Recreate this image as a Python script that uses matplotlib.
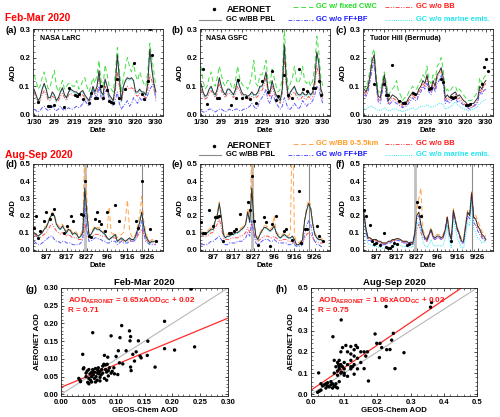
import matplotlib
matplotlib.use('Agg')
import matplotlib.pyplot as plt
from matplotlib.lines import Line2D
from matplotlib.ticker import MultipleLocator, FixedLocator
import numpy as np

plt.rcParams['font.family'] = ['Liberation Sans', 'DejaVu Sans']
plt.rcParams['font.weight'] = 'bold'
plt.rcParams['mathtext.fontset'] = 'custom'
plt.rcParams['mathtext.rm'] = 'Liberation Sans:bold'
plt.rcParams['mathtext.bf'] = 'Liberation Sans:bold'
plt.rcParams['mathtext.it'] = 'Liberation Sans:bold'

# ---------------- data ----------------
feb_ticks = [0, 10, 20, 30, 40, 50, 60]
feb_labels = ['1/30', '2/9', '2/19', '2/29', '3/10', '3/20', '3/30']
aug_ticks = [6, 16, 26, 36, 46, 56]
aug_labels = ['8/7', '8/17', '8/27', '9/6', '9/16', '9/26']
fire_days = [25, 53]

# (a) NASA LaRC
a_blk = [0.09,0.07,0.05,0.06,0.09,0.11,0.09,0.06,0.06,0.08,
         0.07,0.05,0.06,0.08,0.095,0.07,0.06,0.08,0.09,0.085,
         0.08,0.08,0.07,0.08,0.085,0.07,0.06,0.05,0.07,0.10,
         0.08,0.10,0.155,0.08,0.07,0.125,0.10,0.07,0.06,0.05,
         0.10,0.21,0.13,0.05,0.10,0.12,0.13,0.125,0.13,0.12,
         0.08,0.08,0.09,0.08,0.08,0.07,0.11,0.23,0.16,0.11,
         0.08]
a_grn = [0.14,0.12,0.09,0.10,0.13,0.15,0.12,0.09,0.10,0.13,
         0.155,0.10,0.08,0.10,0.12,0.09,0.10,0.11,0.11,0.10,
         0.10,0.12,0.09,0.10,0.12,0.13,0.10,0.08,0.10,0.13,
         0.11,0.14,0.19,0.12,0.10,0.175,0.14,0.10,0.09,0.08,
         0.14,0.235,0.16,0.08,0.13,0.17,0.20,0.17,0.15,0.18,
         0.14,0.12,0.15,0.13,0.11,0.10,0.15,0.25,0.20,0.15,
         0.10]
a_red = [0.08,0.06,0.045,0.05,0.07,0.085,0.07,0.05,0.05,0.065,
         0.06,0.045,0.05,0.065,0.075,0.06,0.05,0.07,0.075,0.07,
         0.065,0.07,0.06,0.065,0.07,0.06,0.05,0.045,0.06,0.085,
         0.07,0.08,0.14,0.07,0.06,0.10,0.08,0.06,0.05,0.045,
         0.08,0.15,0.10,0.045,0.08,0.09,0.10,0.09,0.095,0.09,
         0.07,0.065,0.075,0.07,0.065,0.06,0.09,0.14,0.12,0.09,
         0.06]
a_blu = [0.02,0.015,0.01,0.015,0.025,0.03,0.02,0.015,0.02,0.03,
         0.02,0.015,0.02,0.03,0.02,0.015,0.02,0.025,0.02,0.02,
         0.025,0.03,0.025,0.03,0.04,0.05,0.04,0.03,0.05,0.09,
         0.07,0.06,0.10,0.06,0.05,0.08,0.09,0.05,0.04,0.03,
         0.05,0.08,0.04,0.02,0.03,0.04,0.05,0.03,0.04,0.06,
         0.05,0.04,0.06,0.05,0.06,0.05,0.07,0.09,0.10,0.11,
         0.05]
a_cyn = [0.085,0.065,0.045,0.055,0.085,0.105,0.085,0.055,0.055,0.075,
         0.065,0.045,0.055,0.075,0.09,0.065,0.055,0.075,0.085,0.08,
         0.075,0.075,0.065,0.075,0.08,0.065,0.055,0.045,0.065,0.095,
         0.075,0.095,0.15,0.075,0.065,0.12,0.095,0.065,0.055,0.045,
         0.095,0.205,0.125,0.045,0.095,0.115,0.125,0.12,0.125,0.115,
         0.075,0.075,0.085,0.075,0.075,0.065,0.105,0.225,0.155,0.105,
         0.075]
a_pts_day = [2, 7, 8, 10, 15, 17, 20, 21, 22, 24, 27, 28, 30, 31, 33, 34, 36, 37, 38, 39, 41, 42, 45, 49, 53, 54, 56, 57, 58]
a_pts_val = [0.045,0.032,0.032,0.034,0.028,0.095,0.07,0.066,0.072,0.056,0.043,0.075,0.058,0.06,0.10,0.058,0.088,0.05,0.045,0.04,0.125,0.06,0.09,0.18,0.072,0.055,0.12,0.30,0.21]

# (b) NASA GSFC
b_blk = [0.11,0.08,0.065,0.07,0.09,0.10,0.08,0.07,0.09,0.13,
         0.10,0.08,0.07,0.09,0.09,0.08,0.07,0.09,0.125,0.10,
         0.08,0.07,0.07,0.065,0.07,0.08,0.07,0.07,0.08,0.10,
         0.10,0.12,0.15,0.09,0.08,0.12,0.09,0.07,0.06,0.05,
         0.09,0.245,0.12,0.06,0.08,0.09,0.10,0.08,0.07,0.07,
         0.08,0.07,0.07,0.08,0.07,0.08,0.12,0.22,0.18,0.09,
         0.07]
b_grn = [0.17,0.12,0.09,0.10,0.13,0.15,0.11,0.10,0.13,0.17,
         0.14,0.11,0.10,0.12,0.12,0.10,0.09,0.12,0.17,0.13,
         0.11,0.10,0.10,0.09,0.11,0.14,0.19,0.11,0.10,0.14,
         0.14,0.16,0.19,0.12,0.11,0.16,0.13,0.10,0.08,0.09,
         0.13,0.305,0.16,0.09,0.11,0.13,0.17,0.12,0.11,0.13,
         0.17,0.12,0.11,0.12,0.10,0.12,0.17,0.275,0.22,0.13,
         0.10]
b_red = [0.09,0.07,0.055,0.06,0.075,0.085,0.07,0.06,0.075,0.11,
         0.085,0.07,0.06,0.075,0.075,0.07,0.06,0.075,0.10,0.085,
         0.07,0.06,0.06,0.055,0.06,0.065,0.06,0.06,0.065,0.085,
         0.085,0.10,0.13,0.075,0.065,0.10,0.075,0.06,0.05,0.04,
         0.075,0.20,0.10,0.05,0.065,0.075,0.08,0.065,0.055,0.055,
         0.065,0.055,0.055,0.065,0.055,0.065,0.10,0.17,0.14,0.07,
         0.055]
b_blu = [0.015,0.01,0.01,0.015,0.02,0.02,0.015,0.01,0.015,0.02,
         0.02,0.015,0.01,0.015,0.02,0.015,0.015,0.02,0.02,0.015,
         0.015,0.02,0.02,0.025,0.03,0.04,0.03,0.02,0.03,0.05,
         0.06,0.07,0.09,0.05,0.04,0.07,0.06,0.04,0.03,0.02,
         0.03,0.06,0.04,0.02,0.02,0.03,0.04,0.03,0.02,0.03,
         0.05,0.04,0.03,0.04,0.04,0.05,0.07,0.10,0.09,0.06,
         0.04]
b_cyn = [0.105,0.075,0.06,0.065,0.085,0.095,0.075,0.065,0.085,0.125,
         0.095,0.075,0.065,0.085,0.085,0.075,0.065,0.085,0.12,0.095,
         0.075,0.065,0.065,0.06,0.065,0.075,0.065,0.065,0.075,0.095,
         0.095,0.115,0.145,0.085,0.075,0.115,0.085,0.065,0.055,0.045,
         0.085,0.24,0.115,0.055,0.075,0.085,0.095,0.075,0.065,0.065,
         0.075,0.065,0.065,0.075,0.065,0.075,0.115,0.215,0.175,0.085,
         0.065]
b_pts_day = [1, 3, 8, 9, 15, 17, 18, 20, 22, 24, 27, 30, 33, 35, 37, 38, 41, 43, 45, 48, 50, 52, 55, 56, 58, 59]
b_pts_val = [0.16,0.037,0.06,0.058,0.033,0.06,0.123,0.06,0.063,0.055,0.043,0.117,0.08,0.152,0.052,0.065,0.14,0.07,0.06,0.16,0.09,0.085,0.093,0.095,0.12,0.07]

# (c) Tudor Hill (Bermuda)
c_blk = [0.09,0.08,0.10,0.14,0.19,0.21,0.12,0.065,0.06,0.10,
         0.14,0.09,0.05,0.06,0.07,0.065,0.06,0.05,0.05,0.04,
         0.045,0.045,0.06,0.07,0.08,0.07,0.07,0.09,0.10,0.12,
         0.11,0.14,0.10,0.09,0.12,0.10,0.14,0.15,0.165,0.13,
         0.06,0.07,0.06,0.07,0.075,0.08,0.065,0.07,0.06,0.05,
         0.045,0.035,0.035,0.04,0.04,0.05,0.06,0.10,0.09,0.11,
         0.12]
c_grn = [0.10,0.09,0.12,0.16,0.21,0.23,0.14,0.08,0.08,0.12,
         0.15,0.11,0.07,0.08,0.09,0.10,0.12,0.08,0.07,0.05,
         0.06,0.06,0.08,0.09,0.10,0.09,0.09,0.11,0.12,0.14,
         0.13,0.17,0.12,0.11,0.14,0.12,0.17,0.18,0.20,0.16,
         0.08,0.09,0.08,0.09,0.10,0.10,0.08,0.09,0.08,0.07,
         0.06,0.05,0.05,0.05,0.06,0.07,0.08,0.13,0.11,0.13,
         0.14]
c_red = [0.08,0.07,0.09,0.13,0.18,0.20,0.11,0.055,0.05,0.09,
         0.13,0.08,0.04,0.05,0.06,0.055,0.05,0.04,0.04,0.03,
         0.035,0.035,0.05,0.06,0.07,0.06,0.06,0.08,0.09,0.11,
         0.10,0.13,0.09,0.08,0.11,0.09,0.13,0.14,0.155,0.12,
         0.05,0.06,0.05,0.06,0.065,0.07,0.055,0.06,0.05,0.04,
         0.035,0.03,0.025,0.03,0.03,0.04,0.05,0.09,0.08,0.10,
         0.11]
c_blu = [0.07,0.065,0.08,0.12,0.16,0.19,0.10,0.045,0.04,0.08,
         0.12,0.07,0.035,0.04,0.05,0.045,0.04,0.035,0.03,0.025,
         0.03,0.03,0.04,0.05,0.06,0.05,0.05,0.07,0.08,0.10,
         0.09,0.11,0.08,0.07,0.10,0.08,0.11,0.12,0.14,0.11,
         0.04,0.05,0.04,0.05,0.055,0.06,0.045,0.05,0.04,0.035,
         0.03,0.025,0.02,0.025,0.03,0.035,0.045,0.08,0.07,0.085,
         0.09]
c_cyn = [0.02,0.02,0.025,0.03,0.03,0.025,0.02,0.015,0.015,0.02,
         0.025,0.02,0.015,0.015,0.02,0.02,0.02,0.015,0.015,0.01,
         0.015,0.015,0.02,0.02,0.025,0.02,0.02,0.025,0.03,0.03,
         0.03,0.035,0.03,0.025,0.03,0.03,0.035,0.04,0.04,0.035,
         0.02,0.025,0.025,0.03,0.04,0.045,0.035,0.03,0.025,0.02,
         0.02,0.015,0.015,0.02,0.02,0.025,0.03,0.04,0.045,0.05,
         0.055]
c_pts_day = [5, 10, 11, 12, 14, 17, 19, 20, 24, 25, 32, 33, 38, 39, 43, 44, 45, 50, 51, 52, 58, 59, 60, 61]
c_pts_val = [0.107,0.107,0.068,0.068,0.173,0.05,0.042,0.043,0.077,0.073,0.09,0.095,0.125,0.115,0.063,0.06,0.063,0.035,0.033,0.038,0.107,0.167,0.195,0.152]

# (d) Aug-Sep NASA LaRC
d_blk = [0.10,0.09,0.08,0.09,0.10,0.12,0.13,0.16,0.19,0.21,
         0.20,0.15,0.13,0.12,0.14,0.12,0.10,0.12,0.11,0.09,
         0.10,0.09,0.07,0.08,0.10,0.36,0.22,0.09,0.09,0.11,
         0.13,0.12,0.12,0.11,0.10,0.09,0.07,0.06,0.07,0.08,
         0.09,0.05,0.06,0.07,0.06,0.05,0.06,0.07,0.06,0.06,
         0.08,0.12,0.16,0.22,0.14,0.08,0.06,0.04,0.05,0.05,
         0.05]
d_org = [0.10,0.09,0.08,0.09,0.11,0.13,0.14,0.17,0.20,0.22,
         0.21,0.16,0.14,0.13,0.15,0.13,0.11,0.13,0.12,0.10,
         0.11,0.10,0.08,0.09,0.12,0.60,0.30,0.10,0.10,0.12,
         0.14,0.13,0.13,0.12,0.11,0.10,0.12,0.25,0.10,0.09,
         0.10,0.07,0.08,0.09,0.10,0.18,0.29,0.12,0.08,0.07,
         0.09,0.14,0.20,0.31,0.17,0.10,0.07,0.05,0.06,0.06,
         0.06]
d_red = [0.09,0.08,0.07,0.07,0.08,0.09,0.10,0.12,0.14,0.15,
         0.13,0.11,0.10,0.09,0.10,0.09,0.08,0.09,0.08,0.07,
         0.07,0.07,0.06,0.06,0.07,0.15,0.11,0.07,0.07,0.08,
         0.09,0.09,0.09,0.08,0.08,0.08,0.07,0.06,0.07,0.07,
         0.07,0.05,0.05,0.06,0.05,0.05,0.05,0.06,0.05,0.05,
         0.06,0.08,0.10,0.12,0.09,0.06,0.05,0.04,0.04,0.04,
         0.04]
d_blu = [0.05,0.04,0.03,0.03,0.04,0.05,0.06,0.07,0.08,0.08,
         0.06,0.05,0.05,0.04,0.05,0.05,0.04,0.04,0.04,0.03,
         0.03,0.03,0.03,0.04,0.06,0.27,0.12,0.05,0.05,0.06,
         0.07,0.07,0.06,0.06,0.05,0.05,0.04,0.04,0.05,0.05,
         0.05,0.03,0.04,0.05,0.04,0.04,0.04,0.05,0.05,0.05,
         0.06,0.10,0.13,0.17,0.10,0.05,0.04,0.03,0.03,0.03,
         0.03]
d_cyn = [0.095,0.085,0.075,0.085,0.095,0.115,0.125,0.155,0.185,0.205,
         0.195,0.145,0.125,0.115,0.135,0.115,0.095,0.115,0.105,0.085,
         0.095,0.085,0.065,0.075,0.095,0.355,0.215,0.085,0.085,0.105,
         0.125,0.115,0.115,0.105,0.095,0.085,0.065,0.055,0.065,0.075,
         0.085,0.045,0.055,0.065,0.055,0.045,0.055,0.065,0.055,0.055,
         0.075,0.115,0.155,0.215,0.135,0.075,0.055,0.035,0.045,0.045,
         0.045]
d_pts_day = [0, 1, 2, 3, 5, 6, 8, 9, 10, 15, 16, 18, 19, 23, 24, 25, 27, 28, 30, 31, 32, 33, 35, 36, 40, 42, 50, 51, 53, 57, 60]
d_pts_val = [0.13,0.20,0.07,0.11,0.17,0.22,0.18,0.21,0.24,0.10,0.14,0.20,0.17,0.21,0.205,0.40,0.08,0.075,0.18,0.22,0.17,0.15,0.11,0.22,0.26,0.17,0.17,0.13,0.40,0.12,0.05]

# (e) Aug-Sep NASA GSFC
e_blk = [0.10,0.09,0.09,0.10,0.11,0.12,0.12,0.17,0.20,0.27,
         0.19,0.09,0.07,0.08,0.08,0.09,0.09,0.10,0.10,0.11,
         0.12,0.13,0.15,0.22,0.16,0.36,0.17,0.08,0.06,0.09,
         0.11,0.13,0.13,0.12,0.11,0.12,0.14,0.10,0.08,0.07,
         0.08,0.09,0.08,0.07,0.07,0.08,0.06,0.03,0.03,0.04,
         0.06,0.17,0.23,0.27,0.24,0.15,0.09,0.07,0.06,0.06,
         0.05]
e_org = [0.11,0.10,0.10,0.11,0.12,0.13,0.13,0.18,0.22,0.28,
         0.20,0.10,0.08,0.09,0.09,0.10,0.10,0.11,0.11,0.12,
         0.13,0.14,0.16,0.24,0.18,0.60,0.20,0.09,0.07,0.10,
         0.12,0.14,0.14,0.13,0.12,0.13,0.20,0.11,0.09,0.08,
         0.09,0.10,0.09,0.08,0.10,0.80,0.08,0.05,0.04,0.05,
         0.07,0.18,0.25,0.29,0.26,0.17,0.10,0.08,0.07,0.07,
         0.06]
e_red = [0.09,0.08,0.08,0.08,0.09,0.10,0.10,0.13,0.15,0.18,
         0.13,0.07,0.06,0.06,0.06,0.07,0.07,0.07,0.07,0.08,
         0.08,0.09,0.10,0.13,0.10,0.15,0.10,0.06,0.05,0.06,
         0.07,0.08,0.08,0.08,0.07,0.07,0.08,0.07,0.06,0.05,
         0.06,0.06,0.06,0.05,0.05,0.05,0.04,0.03,0.03,0.03,
         0.04,0.07,0.09,0.10,0.09,0.07,0.05,0.05,0.04,0.04,
         0.04]
e_blu = [0.03,0.03,0.03,0.03,0.04,0.05,0.05,0.06,0.07,0.08,
         0.06,0.04,0.03,0.03,0.04,0.04,0.04,0.04,0.05,0.05,
         0.05,0.06,0.07,0.10,0.08,0.17,0.09,0.04,0.03,0.04,
         0.05,0.06,0.06,0.06,0.05,0.05,0.06,0.05,0.04,0.04,
         0.04,0.04,0.04,0.03,0.03,0.04,0.03,0.02,0.02,0.02,
         0.03,0.09,0.14,0.17,0.15,0.08,0.05,0.03,0.03,0.02,
         0.02]
e_cyn = [0.095,0.085,0.085,0.095,0.105,0.115,0.115,0.165,0.195,0.265,
         0.185,0.085,0.065,0.075,0.075,0.085,0.085,0.095,0.095,0.105,
         0.115,0.125,0.145,0.215,0.155,0.355,0.165,0.075,0.055,0.085,
         0.105,0.125,0.125,0.115,0.105,0.115,0.135,0.095,0.075,0.065,
         0.075,0.085,0.075,0.065,0.065,0.075,0.055,0.025,0.025,0.035,
         0.055,0.165,0.225,0.265,0.235,0.145,0.085,0.065,0.055,0.055,
         0.045]
e_pts_day = [0, 1, 2, 4, 6, 7, 8, 9, 11, 14, 15, 16, 17, 19, 23, 24, 25, 26, 28, 31, 32, 34, 35, 37, 41, 42, 45, 48, 49, 51, 52, 57, 58, 60]
e_pts_val = [0.16,0.10,0.10,0.23,0.14,0.19,0.19,0.20,0.05,0.10,0.10,0.11,0.12,0.21,0.28,0.23,0.43,0.17,0.03,0.19,0.16,0.02,0.15,0.20,0.11,0.12,0.06,0.34,0.04,0.12,0.12,0.14,0.08,0.05]

# (f) Aug-Sep Tudor Hill
f_blk = [0.21,0.12,0.07,0.07,0.06,0.06,0.06,0.05,0.05,0.04,
         0.04,0.04,0.05,0.05,0.06,0.06,0.065,0.065,0.06,0.05,
         0.05,0.05,0.04,0.045,0.04,0.10,0.20,0.22,0.15,0.10,
         0.07,0.06,0.09,0.12,0.08,0.07,0.08,0.08,0.07,0.08,
         0.12,0.19,0.10,0.06,0.23,0.17,0.12,0.09,0.05,0.05,
         0.14,0.22,0.20,0.33,0.19,0.18,0.14,0.12,0.09,0.08,
         0.06]
f_org = [0.21,0.12,0.07,0.07,0.06,0.06,0.06,0.05,0.05,0.04,
         0.04,0.04,0.05,0.05,0.06,0.06,0.065,0.065,0.06,0.05,
         0.05,0.05,0.04,0.045,0.04,0.10,0.24,0.30,0.36,0.12,
         0.08,0.07,0.10,0.13,0.09,0.08,0.09,0.09,0.08,0.09,
         0.13,0.20,0.11,0.07,0.24,0.18,0.13,0.10,0.06,0.06,
         0.15,0.23,0.21,0.34,0.22,0.20,0.17,0.14,0.11,0.09,
         0.08]
f_red = [0.20,0.11,0.065,0.065,0.055,0.055,0.055,0.045,0.045,0.035,
         0.035,0.035,0.045,0.045,0.055,0.055,0.06,0.06,0.055,0.045,
         0.045,0.045,0.035,0.04,0.035,0.07,0.12,0.15,0.10,0.07,
         0.06,0.05,0.08,0.11,0.07,0.06,0.07,0.07,0.06,0.07,
         0.11,0.19,0.09,0.055,0.23,0.17,0.11,0.08,0.045,0.045,
         0.13,0.22,0.20,0.34,0.19,0.17,0.13,0.11,0.08,0.07,
         0.05]
f_blu = [0.19,0.10,0.055,0.055,0.045,0.045,0.045,0.04,0.035,0.03,
         0.03,0.03,0.04,0.04,0.05,0.05,0.055,0.055,0.05,0.04,
         0.04,0.04,0.03,0.035,0.03,0.09,0.18,0.20,0.13,0.09,
         0.06,0.05,0.08,0.11,0.07,0.06,0.07,0.07,0.06,0.07,
         0.11,0.18,0.09,0.05,0.22,0.16,0.11,0.08,0.04,0.04,
         0.12,0.20,0.18,0.32,0.16,0.14,0.11,0.09,0.07,0.06,
         0.05]
f_cyn = [0.17,0.08,0.035,0.03,0.025,0.02,0.02,0.015,0.015,0.01,
         0.01,0.01,0.015,0.015,0.02,0.025,0.03,0.03,0.025,0.02,
         0.02,0.02,0.015,0.015,0.015,0.07,0.15,0.16,0.10,0.05,
         0.02,0.015,0.03,0.06,0.03,0.02,0.025,0.025,0.02,0.03,
         0.07,0.14,0.05,0.015,0.18,0.12,0.07,0.04,0.01,0.01,
         0.08,0.16,0.14,0.28,0.12,0.10,0.07,0.06,0.04,0.05,
         0.04]
f_pts_day = [0, 1, 3, 4, 5, 6, 8, 10, 11, 12, 13, 14, 15, 16, 21, 22, 26, 27, 28, 43]
f_pts_val = [0.23,0.20,0.145,0.05,0.035,0.04,0.03,0.10,0.015,0.01,0.01,0.02,0.04,0.035,0.03,0.035,0.28,0.25,0.20,0.05]

# (g) scatter Feb-Mar: GEOS-Chem AOD vs AERONET AOD
g_x = [0.234,0.186,0.057,0.09,0.109,0.106,0.123,0.125,0.124,0.156,0.139,0.039,0.103,0.117,0.099,0.084,
       0.129,0.135,0.142,0.144,0.155,0.186,0.204,0.24,0.169,0.125,0.126,0.132,0.111,0.105,0.096,0.102,
       0.032,0.034,0.035,0.04,0.041,0.045,0.047,0.048,0.05,0.05,0.052,0.053,0.055,0.055,0.057,0.058,
       0.06,0.06,0.062,0.063,0.065,0.065,0.067,0.068,0.07,0.07,0.072,0.073,0.075,0.075,0.077,0.078,
       0.08,0.08,0.082,0.082,0.085,0.085,0.087,0.09,0.092,0.095,0.055,0.062,0.07,0.083,0.078,0.045,0.05,0.066]
g_y = [0.297,0.206,0.174,0.165,0.194,0.16,0.179,0.163,0.151,0.15,0.151,0.113,0.123,0.123,0.107,0.105,
       0.113,0.12,0.108,0.103,0.11,0.129,0.125,0.134,0.077,0.077,0.067,0.094,0.086,0.089,0.058,0.056,
       0.045,0.04,0.036,0.072,0.075,0.05,0.066,0.034,0.03,0.045,0.058,0.04,0.05,0.062,0.07,0.055,
       0.045,0.063,0.073,0.05,0.06,0.04,0.075,0.058,0.065,0.048,0.055,0.07,0.08,0.06,0.085,0.045,
       0.07,0.083,0.063,0.04,0.067,0.052,0.075,0.06,0.065,0.075,0.035,0.035,0.038,0.085,0.11,0.06,0.07,0.068]
g_slope, g_icpt, g_r = 0.65, 0.02, 0.71

# (h) scatter Aug-Sep
h_x = [0.363,0.36,0.226,0.091,0.066,0.193,0.248,0.243,0.208,0.198,0.213,0.238,0.228,0.28,0.253,0.206,0.16,0.173,0.023,
       0.08,0.085,0.09,0.095,0.1,0.11,0.12,0.13,0.135,0.14,0.15,0.16,0.17,0.165,0.14,0.13,0.12,0.11,0.1,0.09,0.085,
       0.08,0.075,0.07,0.1,0.11,0.12,0.125,0.13,0.14,0.15,0.105,0.12,0.09,0.095,0.085,0.075,0.08,0.07,0.13,0.12,0.1,
       0.092,0.083,
       0.02,0.025,0.03,0.03,0.035,0.04,0.045,0.05,0.05,0.055,0.06,0.065,0.065,0.07,0.075,0.08,0.06,0.045,0.085]
h_y = [0.432,0.41,0.413,0.35,0.271,0.284,0.287,0.255,0.24,0.24,0.22,0.211,0.21,0.196,0.121,0.173,0.121,0.063,0.101,
       0.15,0.16,0.14,0.13,0.12,0.2,0.19,0.21,0.23,0.22,0.2,0.2,0.2,0.18,0.17,0.18,0.16,0.14,0.15,0.1,0.12,
       0.11,0.13,0.1,0.09,0.085,0.12,0.13,0.14,0.12,0.15,0.23,0.225,0.2,0.22,0.13,0.05,0.09,0.16,0.095,0.13,0.1,
       0.105,0.14,
       0.01,0.015,0.02,0.05,0.04,0.045,0.05,0.055,0.04,0.035,0.06,0.05,0.03,0.04,0.035,0.03,0.045,0.03,0.06]
h_slope, h_icpt, h_r = 1.06, 0.02, 0.75

# ---------------- styles ----------------
C_GRN, C_GRN_T = '#44e044', '#22dd22'
C_RED, C_RED_T = '#ff4a4a', '#ff1a1a'
C_BLU, C_BLU_T = '#5a5aff', '#1a1aff'
C_CYN, C_CYN_T = '#33e6ee', '#22e4ee'
C_ORG, C_ORG_T = '#ffa54a', '#ff9a22'
C_BLK = '#303030'
LS_GRN = (0, (5, 3))
LS_ORG = (0, (5, 3))
LS_RED = (0, (4, 1.5, 1, 1.5, 1, 1.5))
LS_BLU = (0, (4, 1.5, 1, 1.5))
LS_CYN = (0, (1, 1.2))
LW = 0.7

W, H = 500, 417
fig = plt.figure(figsize=(5, 4.17), dpi=100)


def add_ax(l, t, r, b):
    return fig.add_axes([l / W, 1 - b / H, (r - l) / W, (b - t) / H])


def ftext(x, y, s, **kw):
    kw.setdefault('va', 'center')
    kw.setdefault('ha', 'left')
    kw.setdefault('fontweight', 'bold')
    fig.text(x / W, 1 - y / H, s, **kw)


def fline(x0, x1, y, **kw):
    fig.add_artist(Line2D([x0 / W, x1 / W], [1 - y / H, 1 - y / H],
                          transform=fig.transFigure, **kw))


def style_axes(ax, lab=5.7):
    for s in ax.spines.values():
        s.set_linewidth(0.6)
        s.set_color('#222222')
    ax.tick_params(which='major', direction='in', top=True, right=True,
                   length=2.5, width=0.5, labelsize=lab, pad=2)
    ax.tick_params(which='minor', direction='in', top=True, right=True,
                   length=1.2, width=0.4)
    for lbl in ax.get_xticklabels() + ax.get_yticklabels():
        lbl.set_fontweight('bold')


days = np.arange(len(a_blk))


def ts_panel(ax, series, pts_d, pts_v, ymax, ystep, ticks, labels, fire=False):
    if fire:
        ax.axvline(fire_days[0], color='#c0c0c0', lw=2.0, zorder=1)
        ax.axvline(fire_days[1], color='#8a8a8a', lw=0.8, zorder=1)
    for vals, col, ls in series:
        ax.plot(days, vals, color=col, ls=ls, lw=LW, zorder=2)
    ax.plot(pts_d, pts_v, 'o', color='black', ms=2.3, mec='none', zorder=4)
    ax.set_xlim(-0.5, 63.5)
    ax.set_ylim(-0.004 * ymax / 0.3, ymax)
    ax.xaxis.set_major_locator(FixedLocator(ticks))
    ax.set_xticklabels(labels)
    ax.xaxis.set_minor_locator(MultipleLocator(2))
    ax.yaxis.set_major_locator(MultipleLocator(ystep))
    ax.yaxis.set_minor_locator(MultipleLocator(ystep / 5))
    ax.yaxis.set_major_formatter(matplotlib.ticker.FormatStrFormatter('%.1f'))
    ax.set_xlabel('Date', fontsize=5.5, fontweight='bold', labelpad=1)
    ax.set_ylabel('AOD', fontsize=5.5, fontweight='bold', labelpad=2)
    style_axes(ax)


# --- Feb-Mar row ---
feb_lefts = [33, 200, 363]
feb_sets = [
    ([(a_grn, C_GRN, LS_GRN), (a_red, C_RED, LS_RED), (a_blu, C_BLU, LS_BLU), (a_cyn, C_CYN, LS_CYN), (a_blk, C_BLK, '-')], a_pts_day, a_pts_val, 'NASA LaRC', '(a)'),
    ([(b_grn, C_GRN, LS_GRN), (b_red, C_RED, LS_RED), (b_blu, C_BLU, LS_BLU), (b_cyn, C_CYN, LS_CYN), (b_blk, C_BLK, '-')], b_pts_day, b_pts_val, 'NASA GSFC', '(b)'),
    ([(c_grn, C_GRN, LS_GRN), (c_red, C_RED, LS_RED), (c_blu, C_BLU, LS_BLU), (c_cyn, C_CYN, LS_CYN), (c_blk, C_BLK, '-')], c_pts_day, c_pts_val, 'Tudor Hill (Bermuda)', '(c)'),
]
for l, (ser, pd_, pv_, site, tag) in zip(feb_lefts, feb_sets):
    ax = add_ax(l, 29, l + 130, 116)
    ts_panel(ax, ser, pd_, pv_, 0.3, 0.1, feb_ticks, feb_labels)
    ax.text(0.05, 0.89, site, transform=ax.transAxes, fontsize=5.1, fontweight='bold', va='center')
    ftext(l - 28, 30.5, tag, fontsize=6.8)

# --- Aug-Sep row ---
aug_sets = [
    ([(d_org, C_ORG, LS_ORG), (d_red, C_RED, LS_RED), (d_blu, C_BLU, LS_BLU), (d_cyn, C_CYN, LS_CYN), (d_blk, C_BLK, '-')], d_pts_day, d_pts_val, '(d)'),
    ([(e_org, C_ORG, LS_ORG), (e_red, C_RED, LS_RED), (e_blu, C_BLU, LS_BLU), (e_cyn, C_CYN, LS_CYN), (e_blk, C_BLK, '-')], e_pts_day, e_pts_val, '(e)'),
    ([(f_org, C_ORG, LS_ORG), (f_red, C_RED, LS_RED), (f_blu, C_BLU, LS_BLU), (f_cyn, C_CYN, LS_CYN), (f_blk, C_BLK, '-')], f_pts_day, f_pts_val, '(f)'),
]
for l, (ser, pd_, pv_, tag) in zip(feb_lefts, aug_sets):
    ax = add_ax(l, 164, l + 130, 251)
    ts_panel(ax, ser, pd_, pv_, 0.5, 0.1, aug_ticks, aug_labels, fire=True)
    ftext(l - 28, 164.5, tag, fontsize=6.8)

# --- section titles & legends ---
ftext(5, 18, 'Feb-Mar 2020', fontsize=7.4, color='#ff0000')
ftext(5, 155, 'Aug-Sep 2020', fontsize=7.4, color='#ff0000')


def legend(y1, y2, second):
    fig.add_artist(Line2D([214 / W], [1 - (y1 + 2) / H], marker='o', ms=2.5, color='black',
                          mec='none', transform=fig.transFigure))
    ftext(227, y1 + 2, 'AERONET', fontsize=6.6)
    fline(199, 221, y2, color='#8a8a8a', lw=0.8)
    ftext(226, y2, 'GC w/BB PBL', fontsize=5.4)
    name, col, colt, ls = second
    fline(293, 313, y1, color=col, lw=LW, ls=ls)
    ftext(316, y1, name, fontsize=5.4, color=colt)
    fline(288, 313, y2, color=C_BLU, lw=LW, ls=LS_BLU)
    ftext(316, y2, 'GC w/o FF+BF', fontsize=5.4, color=C_BLU_T)
    fline(385, 413, y1, color=C_RED, lw=LW, ls=LS_RED)
    ftext(416, y1, 'GC w/o BB', fontsize=5.4, color=C_RED_T)
    fline(385, 413, y2, color=C_CYN, lw=LW, ls=LS_CYN)
    ftext(416, y2, 'GC w/o marine emis.', fontsize=5.4, color=C_CYN_T)


legend(7, 19.5, ('GC w/ fixed CWC', C_GRN, C_GRN_T, LS_GRN))
legend(143.5, 155, ('GC w/BB 0-5.5km', C_ORG, C_ORG_T, LS_ORG))


# --- scatter panels ---
def scatter_panel(l, r, xs, ys, lim, step, fmt, slope, icpt, rval, title, tag):
    ax = add_ax(l, 288, r, 396)
    ax.plot([0, lim], [0, lim], color='#b8b8b8', lw=0.8, zorder=1)
    xx = np.array([0, lim])
    ax.plot(xx, slope * xx + icpt, color='#ff2a2a', lw=0.9, zorder=2)
    ax.scatter(xs, ys, s=6, color='black', edgecolors='none', zorder=3)
    ax.set_xlim(0, lim)
    ax.set_ylim(-0.015 * lim, lim)
    ax.xaxis.set_major_locator(MultipleLocator(step))
    ax.yaxis.set_major_locator(MultipleLocator(step))
    ax.xaxis.set_minor_locator(MultipleLocator(step / 5))
    ax.yaxis.set_minor_locator(MultipleLocator(step / 5))
    ax.xaxis.set_major_formatter(matplotlib.ticker.FormatStrFormatter(fmt))
    ax.yaxis.set_major_formatter(matplotlib.ticker.FormatStrFormatter(fmt))
    ax.set_xlabel('GEOS-Chem AOD', fontsize=5.6, fontweight='bold', labelpad=1)
    ax.set_ylabel('AERONET AOD', fontsize=5.6, fontweight='bold', labelpad=2)
    style_axes(ax, lab=5.5)
    ax.set_title(title, fontsize=6.8, fontweight='bold', pad=2.5)
    ax.text(0.04, 0.88, r'AOD$_{\mathbf{AERONET}}$ = %.2fxAOD$_{\mathbf{GC}}$ + %.2f' % (slope, icpt),
            transform=ax.transAxes, fontsize=5.8, color='#ff1a1a', fontweight='bold', va='center')
    ax.text(0.04, 0.79, 'R = %.2f' % rval, transform=ax.transAxes, fontsize=5.8,
            color='#ff1a1a', fontweight='bold', va='center')
    ftext(l - 36, 290, tag, fontsize=6.8)


scatter_panel(61, 228, g_x, g_y, 0.30, 0.05, '%.2f', g_slope, g_icpt, g_r, 'Feb-Mar 2020', '(g)')
scatter_panel(311, 477, h_x, h_y, 0.5, 0.1, '%.1f', h_slope, h_icpt, h_r, 'Aug-Sep 2020', '(h)')

fig.savefig('out.png', dpi=100)
